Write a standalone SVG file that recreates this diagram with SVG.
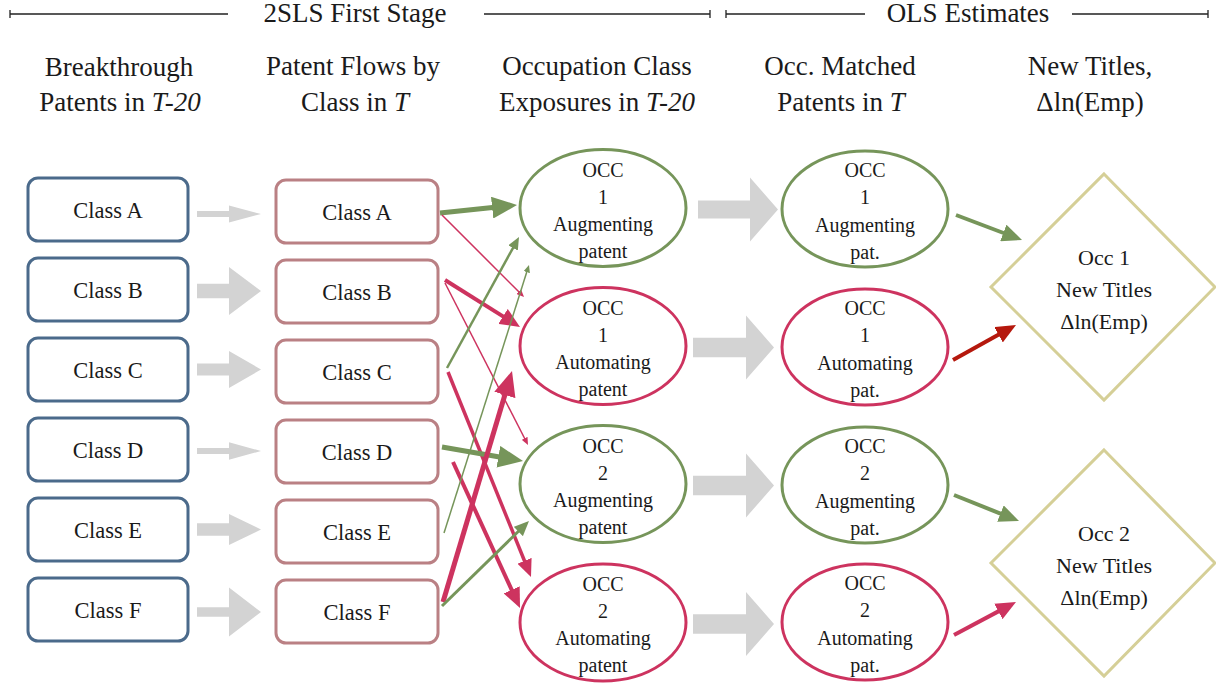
<svg xmlns="http://www.w3.org/2000/svg" width="1216" height="689" viewBox="0 0 1216 689">
<style>
text{font-family:"Liberation Serif","Times New Roman",serif;fill:#1a1a1a;text-anchor:middle}
.hd{font-size:27px}
.bx{font-size:22.5px}
.el{font-size:20px}
.dm{font-size:22px}
.it{font-style:italic}
.rule{stroke:#222;stroke-width:1.3;fill:none}
.b1{fill:#fff;stroke:#4b6a8b;stroke-width:3}
.b2{fill:#fff;stroke:#ba8084;stroke-width:3}
.eg{fill:#fff;stroke:#76955a;stroke-width:3}
.er{fill:#fff;stroke:#cd335f;stroke-width:3}
.dk{fill:#fff;stroke:#d5cf97;stroke-width:3}
.gr{fill:#d3d3d3;stroke:none}
.ag{stroke:#76955a;fill:none;marker-end:url(#mg)}
.ar{stroke:#cd335f;fill:none;marker-end:url(#mr)}
.ad{stroke:#b5180d;fill:none;marker-end:url(#md)}
</style>
<defs>
<marker id="mg" viewBox="0 0 5 4.4" refX="2" refY="2.2" markerWidth="5" markerHeight="4.4" orient="auto"><path d="M0,0 L5,2.2 L0,4.4 z" fill="#76955a"/></marker>
<marker id="mr" viewBox="0 0 5 4.4" refX="2" refY="2.2" markerWidth="5" markerHeight="4.4" orient="auto"><path d="M0,0 L5,2.2 L0,4.4 z" fill="#cd335f"/></marker>
<marker id="md" viewBox="0 0 5 4.4" refX="2" refY="2.2" markerWidth="5" markerHeight="4.4" orient="auto"><path d="M0,0 L5,2.2 L0,4.4 z" fill="#b5180d"/></marker>
</defs>
<rect width="1216" height="689" fill="#fff"/>

<g id="headers">
<path class="rule" d="M10,14 H228 M10,10 V18 M484,14 H710 M710,10 V18 M726,14 H865 M726,10 V18 M1072,14 H1208 M1208,10 V18"/>
<text class="hd" x="355" y="22">2SLS First Stage</text>
<text class="hd" x="968" y="22">OLS Estimates</text>
<text class="hd" x="119" y="76">Breakthrough</text>
<text class="hd" x="120" y="111">Patents in <tspan class="it">T-20</tspan></text>
<text class="hd" x="353" y="75">Patent Flows by</text>
<text class="hd" x="355" y="111">Class in <tspan class="it">T</tspan></text>
<text class="hd" x="597" y="75">Occupation Class</text>
<text class="hd" x="597" y="111">Exposures in <tspan class="it">T-20</tspan></text>
<text class="hd" x="840" y="75">Occ. Matched</text>
<text class="hd" x="841" y="111">Patents in <tspan class="it">T</tspan></text>
<text class="hd" x="1090" y="75">New Titles,</text>
<text class="hd" x="1090" y="111">Δln(Emp)</text>
</g>

<g id="bp-A"><rect class="b1" x="28" y="178" width="160" height="63" rx="10"/><text class="bx" x="108" y="218">Class A</text></g>
<g id="bp-B"><rect class="b1" x="28" y="258" width="160" height="63" rx="10"/><text class="bx" x="108" y="298">Class B</text></g>
<g id="bp-C"><rect class="b1" x="28" y="338" width="160" height="63" rx="10"/><text class="bx" x="108" y="378">Class C</text></g>
<g id="bp-D"><rect class="b1" x="28" y="418" width="160" height="63" rx="10"/><text class="bx" x="108" y="458">Class D</text></g>
<g id="bp-E"><rect class="b1" x="28" y="498" width="160" height="63" rx="10"/><text class="bx" x="108" y="538">Class E</text></g>
<g id="bp-F"><rect class="b1" x="28" y="578" width="160" height="63" rx="10"/><text class="bx" x="108" y="618">Class F</text></g>

<g id="pf-A"><rect class="b2" x="276" y="180" width="162" height="63" rx="10"/><text class="bx" x="357" y="220">Class A</text></g>
<g id="pf-B"><rect class="b2" x="276" y="260" width="162" height="63" rx="10"/><text class="bx" x="357" y="300">Class B</text></g>
<g id="pf-C"><rect class="b2" x="276" y="340" width="162" height="63" rx="10"/><text class="bx" x="357" y="380">Class C</text></g>
<g id="pf-D"><rect class="b2" x="276" y="420" width="162" height="63" rx="10"/><text class="bx" x="357" y="460">Class D</text></g>
<g id="pf-E"><rect class="b2" x="276" y="500" width="162" height="63" rx="10"/><text class="bx" x="357" y="540">Class E</text></g>
<g id="pf-F"><rect class="b2" x="276" y="580" width="162" height="63" rx="10"/><text class="bx" x="357" y="620">Class F</text></g>

<g id="ex-1aug"><ellipse class="eg" cx="603" cy="208" rx="83" ry="58.5"/>
<text class="el" x="603" y="177">OCC</text><text class="el" x="603" y="204">1</text><text class="el" x="603" y="231">Augmenting</text><text class="el" x="603" y="258">patent</text></g>
<g id="ex-1aut"><ellipse class="er" cx="603" cy="346" rx="83" ry="58.5"/>
<text class="el" x="603" y="315">OCC</text><text class="el" x="603" y="342">1</text><text class="el" x="603" y="369">Automating</text><text class="el" x="603" y="396">patent</text></g>
<g id="ex-2aug"><ellipse class="eg" cx="603" cy="484" rx="83" ry="58.5"/>
<text class="el" x="603" y="453">OCC</text><text class="el" x="603" y="480">2</text><text class="el" x="603" y="507">Augmenting</text><text class="el" x="603" y="534">patent</text></g>
<g id="ex-2aut"><ellipse class="er" cx="603" cy="622.5" rx="83" ry="58.5"/>
<text class="el" x="603" y="591">OCC</text><text class="el" x="603" y="618">2</text><text class="el" x="603" y="645">Automating</text><text class="el" x="603" y="672">patent</text></g>

<g id="mp-1aug"><ellipse class="eg" cx="865" cy="209" rx="83" ry="58"/>
<text class="el" x="865" y="177">OCC</text><text class="el" x="865" y="204">1</text><text class="el" x="865" y="232">Augmenting</text><text class="el" x="865" y="259">pat.</text></g>
<g id="mp-1aut"><ellipse class="er" cx="865" cy="347" rx="83" ry="58"/>
<text class="el" x="865" y="315">OCC</text><text class="el" x="865" y="342">1</text><text class="el" x="865" y="370">Automating</text><text class="el" x="865" y="397">pat.</text></g>
<g id="mp-2aug"><ellipse class="eg" cx="865" cy="485" rx="83" ry="58"/>
<text class="el" x="865" y="453">OCC</text><text class="el" x="865" y="480">2</text><text class="el" x="865" y="508">Augmenting</text><text class="el" x="865" y="535">pat.</text></g>
<g id="mp-2aut"><ellipse class="er" cx="865" cy="622" rx="83" ry="58"/>
<text class="el" x="865" y="590">OCC</text><text class="el" x="865" y="617">2</text><text class="el" x="865" y="645">Automating</text><text class="el" x="865" y="672">pat.</text></g>

<g id="nt-1"><polygon class="dk" points="1104,174 1215,287 1104,400 991,287"/>
<text class="dm" x="1104" y="265">Occ 1</text><text class="dm" x="1104" y="297">New Titles</text><text class="dm" x="1104" y="329">Δln(Emp)</text></g>
<g id="nt-2"><polygon class="dk" points="1104,450 1215,563 1104,676 991,563"/>
<text class="dm" x="1104" y="541">Occ 2</text><text class="dm" x="1104" y="573">New Titles</text><text class="dm" x="1104" y="605">Δln(Emp)</text></g>

<g id="connectors">
<polygon class="gr" points="197,211 229,211 229,205.5 261,214 229,222.5 229,217 197,217"/>
<polygon class="gr" points="197,283.7 229,283.7 229,267 261,291 229,315 229,298.3 197,298.3"/>
<polygon class="gr" points="197,363.5 229,363.5 229,351 261,369.5 229,388 229,375.5 197,375.5"/>
<polygon class="gr" points="197,448 229,448 229,442.3 261,451 229,459.7 229,454 197,454"/>
<polygon class="gr" points="197,523.2 229,523.2 229,514 261,529.5 229,545 229,535.8 197,535.8"/>
<polygon class="gr" points="197,607.3 229,607.3 229,587.5 261,612 229,636.5 229,616.7 197,616.7"/>
<polygon class="gr" points="698,200.5 750,200.5 750,177.5 778,209.5 750,241.5 750,218.5 698,218.5"/>
<polygon class="gr" points="693,337.8 746,337.8 746,315.5 774,347.5 746,379.5 746,357.2 693,357.2"/>
<polygon class="gr" points="693,475.8 746,475.8 746,453.5 774,485.5 746,517.5 746,495.2 693,495.2"/>
<polygon class="gr" points="693,614.3 746,614.3 746,592 774,624 746,656 746,633.7 693,633.7"/>

<line class="ag" x1="440" y1="213" x2="502.08" y2="206.55" stroke-width="5"/>
<line class="ar" x1="442" y1="215" x2="520.82" y2="293.82" stroke-width="1.5"/>
<line class="ar" x1="445" y1="280" x2="509.83" y2="320.63" stroke-width="4"/>
<line class="ar" x1="445" y1="283" x2="525.95" y2="441" stroke-width="1.5"/>
<line class="ag" x1="447" y1="368" x2="515.39" y2="243.57" stroke-width="2.5"/>
<line class="ar" x1="448" y1="372" x2="527.06" y2="567.27" stroke-width="3.5"/>
<line class="ag" x1="442" y1="447" x2="508.22" y2="458.45" stroke-width="5"/>
<line class="ar" x1="453" y1="462" x2="515" y2="597.09" stroke-width="4"/>
<line class="ag" x1="444" y1="533" x2="527.64" y2="269.29" stroke-width="1.5"/>
<line class="ar" x1="443" y1="602" x2="507.71" y2="385.37" stroke-width="5"/>
<line class="ag" x1="442" y1="606" x2="522.56" y2="527.29" stroke-width="3"/>

<line class="ag" x1="956" y1="215" x2="1010.78" y2="235.75" stroke-width="4"/>
<line class="ad" x1="953" y1="360" x2="1005.51" y2="330.83" stroke-width="4"/>
<line class="ag" x1="954" y1="495" x2="1007.86" y2="516.54" stroke-width="4"/>
<line class="ar" x1="954" y1="635" x2="1005.41" y2="607.64" stroke-width="4"/>
</g>
</svg>
